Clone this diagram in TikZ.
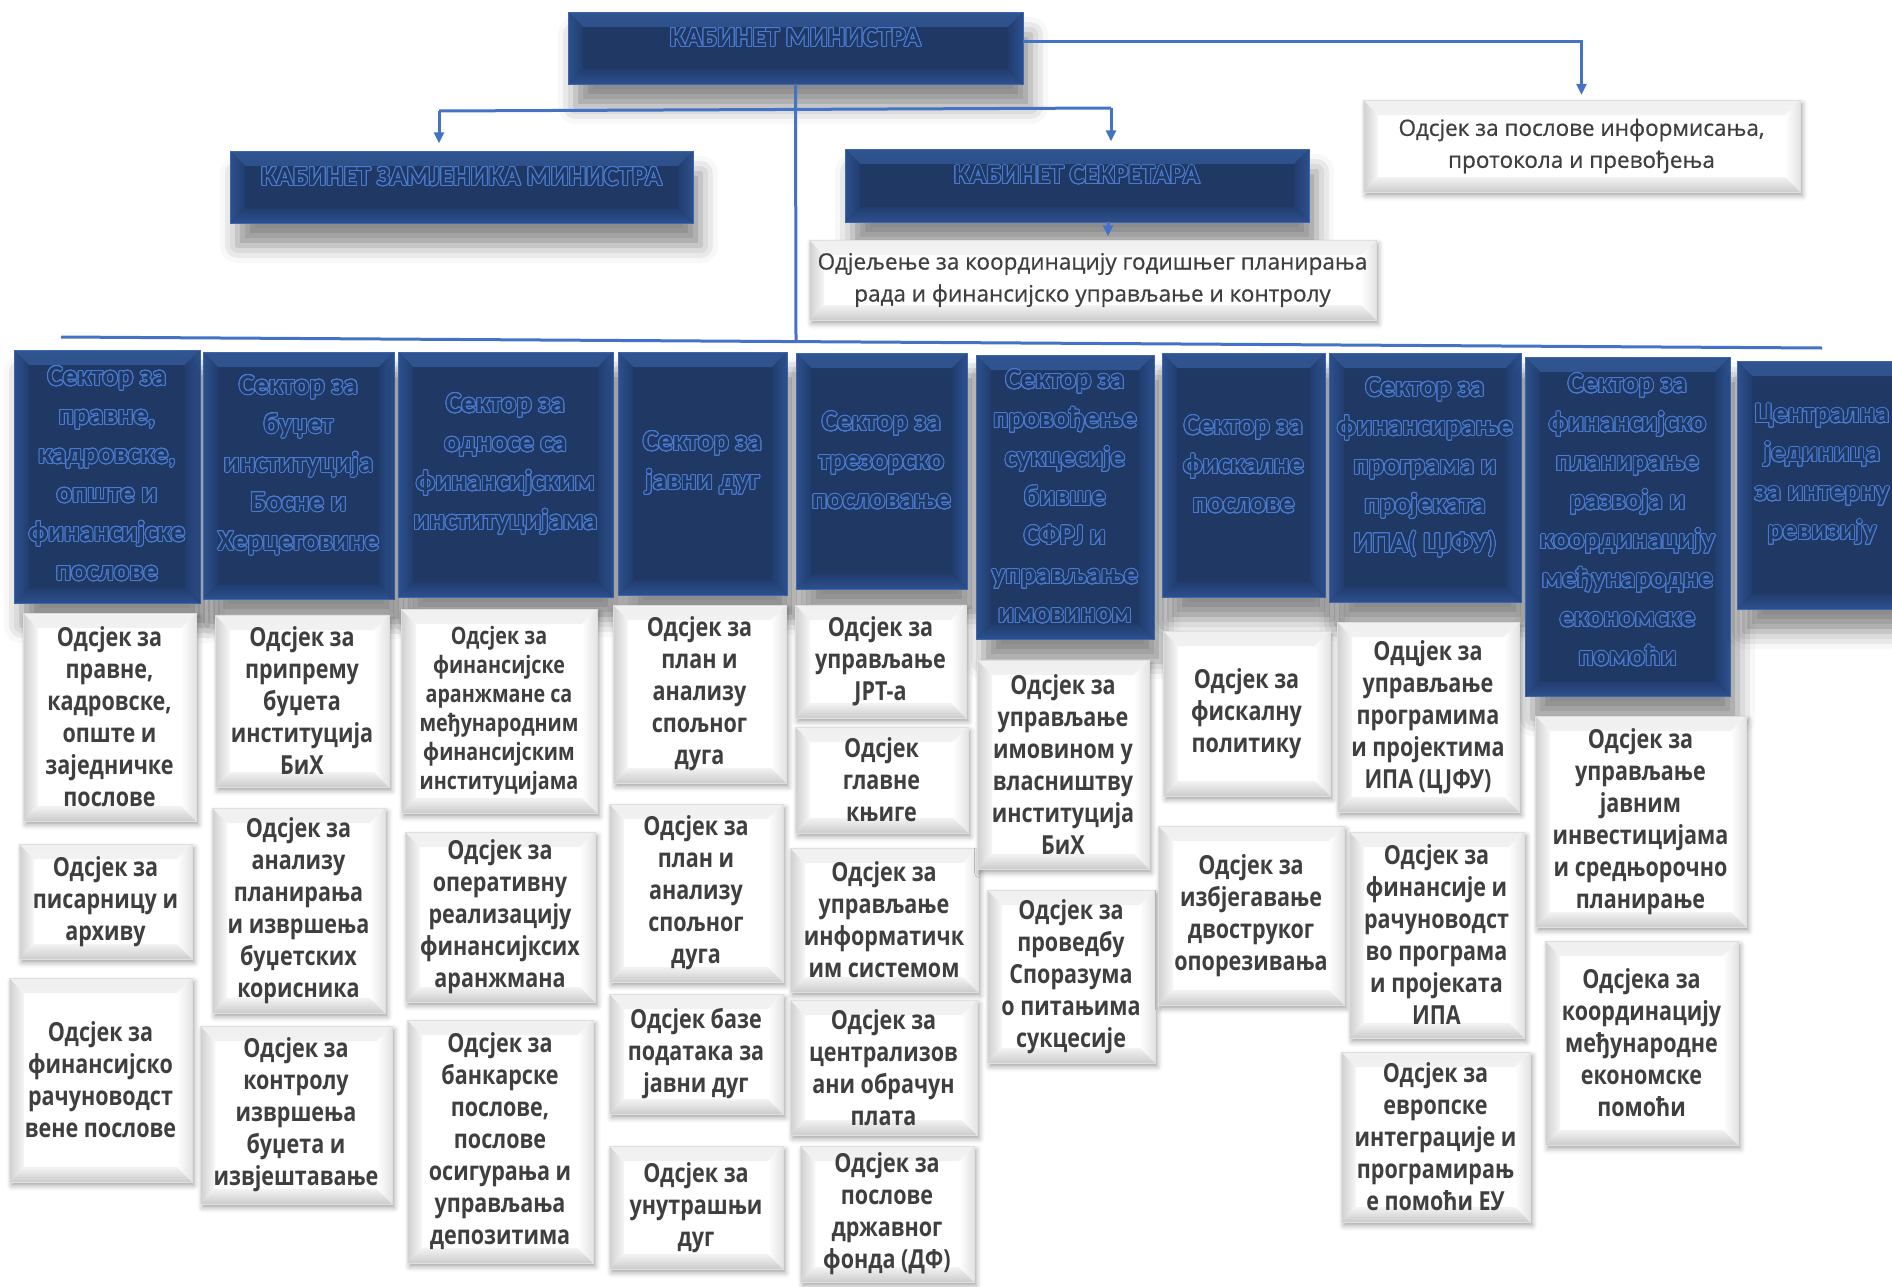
\documentclass[tikz,border=0pt]{standalone}
\usepackage{fontspec}
\usepackage[copies]{contour}
\usetikzlibrary{arrows.meta,shadows.blur}
\newfontfamily\osans{Open Sans}[FakeBold=0.6]
\newfontfamily\osansc{Open Sans}[FakeStretch=0.82]
\newfontfamily\carl{Carlito}
\contourlength{0.38pt}
\contournumber{24}
\definecolor{navy}{HTML}{1F3864}
\definecolor{lineblue}{HTML}{4472C4}
\definecolor{olblue}{HTML}{4A7BD0}
\definecolor{txtgray}{HTML}{3F3F3F}
\definecolor{dhi}{HTML}{30548F}
\definecolor{dmid}{HTML}{23427A}
\definecolor{dlo}{HTML}{213D6E}
\definecolor{dside}{HTML}{2D508E}
\definecolor{dedge}{HTML}{3B66B0}
\newcommand\ol[1]{\contour{olblue}{#1}}
\newcommand\bevelpaths[5]{%
 \path[#1] (path picture bounding box.north west) -- (path picture bounding box.north east) -- ([shift={(-#5,-#5)}]path picture bounding box.north east) -- ([shift={(#5,-#5)}]path picture bounding box.north west) -- cycle;
 \path[#2] (path picture bounding box.north east) -- (path picture bounding box.south east) -- ([shift={(-#5,#5)}]path picture bounding box.south east) -- ([shift={(-#5,-#5)}]path picture bounding box.north east) -- cycle;
 \path[#3] (path picture bounding box.south east) -- (path picture bounding box.south west) -- ([shift={(#5,#5)}]path picture bounding box.south west) -- ([shift={(-#5,#5)}]path picture bounding box.south east) -- cycle;
 \path[#4] (path picture bounding box.south west) -- (path picture bounding box.north west) -- ([shift={(#5,-#5)}]path picture bounding box.north west) -- ([shift={(#5,#5)}]path picture bounding box.south west) -- cycle;}
\newcommand\mkbox[7]{\node[#2, minimum width={(#5-#3)*0.4pt}, minimum height={(#6-#4)*0.4pt}] (#1) at ({(#3+#5)/2},{(#4+#6)/2}) {#7};}
\tikzset{
 every node/.style={inner sep=0pt, outer sep=0pt},
 dbox/.style={rectangle, fill=navy, draw=dedge, line width=0.4pt,
   blur shadow={shadow xshift=3pt, shadow yshift=-9pt, shadow blur radius=7pt, shadow opacity=45},
   path picture={\bevelpaths{top color=dhi,bottom color=dmid}{left color=dlo,right color=dside}{top color=dlo,bottom color=dside}{left color=dside,right color=dlo}{6pt}}},
 wbox/.style={rectangle, fill=white, draw=gray!25, line width=0.4pt,
   blur shadow={shadow xshift=1pt, shadow yshift=-1.5pt, shadow blur radius=2pt, shadow opacity=35},
   path picture={\bevelpaths{top color=gray!12,bottom color=white}{left color=white,right color=gray!22}{top color=gray!10,bottom color=gray!40}{left color=gray!38,right color=gray!6}{6pt}},
   align=center, text=txtgray, font=\osansc\bfseries\fontsize{10.5}{12.8}\selectfont},
 wsmall/.style={wbox, font=\osansc\bfseries\fontsize{9.6}{11.6}\selectfont},
 winfo/.style={wbox, font=\osans\fontsize{9}{12.8}\selectfont},
 htext/.style={align=center, text=navy, font=\carl\bfseries\fontsize{11}{13}\selectfont},
 stext/.style={align=center, text=navy, font=\carl\bfseries\fontsize{11.5}{15.6}\selectfont},
 conn/.style={draw=lineblue, line width=1.2pt, -{Triangle[length=4.5pt,width=4pt]}},
 bus/.style={draw=lineblue, line width=1.2pt},
}
\begin{document}
\begin{tikzpicture}[x=0.4pt,y=-0.4pt]
\useasboundingbox (0,0) rectangle (1892,1286);
% header boxes
\mkbox{km}{dbox}{568}{12}{1023}{84}{}
\mkbox{kzm}{dbox}{230}{151}{693}{223}{}
\mkbox{ks}{dbox}{845}{149}{1309}{222}{}
\mkbox{info}{winfo}{1363}{100}{1800}{192}{Одсјек за послове информисања,\\протокола и превођења}
\mkbox{odj}{winfo}{809}{240}{1376}{320}{Одјељење за координацију годишњег планирања\\рада и финансијско управљање и контролу}
\node[htext] (kmt) at ([yshift=4pt]km.center) {\ol{КАБИНЕТ МИНИСТРА}};
\node[htext] (kzmt) at ([yshift=4pt]kzm.center) {\ol{КАБИНЕТ ЗАМЈЕНИКА МИНИСТРА}};
\node[htext] (kst) at ([yshift=4pt]ks.center) {\ol{КАБИНЕТ СЕКРЕТАРА}};
% connectors
\coordinate (trunk) at (796,340);
\coordinate (busL) at (61,337);
\coordinate (busR) at (1822,348);
\coordinate (brL) at (439,111);
\coordinate (brR) at (1111,108);
\draw[bus] (km.south) -- (trunk);
\draw[bus] (busL) -- (busR);
\draw[bus] (brL) -- (brR);
\draw[conn, shorten >=3pt] (brL) -- (kzm.north -| brL);
\draw[conn, shorten >=3pt] (brR) -- (ks.north -| brR);
\draw[conn, shorten >=2pt] ([yshift=2.8pt]km.east) -| (info.north);
\draw[conn, shorten >=1pt] ([xshift=12.4pt]ks.south) -- ++(0,17);
% sector boxes
\mkbox{s1}{dbox}{14}{350}{200}{603}{}
\mkbox{s2}{dbox}{203}{352}{394}{599}{}
\mkbox{s3}{dbox}{398}{352}{613}{597}{}
\mkbox{s4}{dbox}{618}{352}{787}{595}{}
\mkbox{s5}{dbox}{796}{353}{967}{589}{}
\mkbox{s6}{dbox}{976}{355}{1154}{639}{}
\mkbox{s7}{dbox}{1162}{353}{1325}{597}{}
\mkbox{s8}{dbox}{1329}{353}{1521}{602}{}
\mkbox{s9}{dbox}{1525}{357}{1730}{696}{}
\mkbox{s10}{dbox}{1737}{361}{1907}{609}{}
\node[stext] (s1t) at ([yshift=1pt]s1.center) {\ol{Сектор за}\\\ol{правне,}\\\ol{кадровске,}\\\ol{опште и}\\\ol{финансијске}\\\ol{послове}};
\node[stext] (s2t) at ([yshift=4pt]s2.center) {\ol{Сектор за}\\\ol{буџет}\\\ol{институција}\\\ol{Босне и}\\\ol{Херцеговине}};
\node[stext] (s3t) at ([yshift=4pt]s3.center) {\ol{Сектор за}\\\ol{односе са}\\\ol{финансијским}\\\ol{институцијама}};
\node[stext] (s4t) at ([yshift=4pt]s4.center) {\ol{Сектор за}\\\ol{јавни дуг}};
\node[stext] (s5t) at ([yshift=4pt]s5.center) {\ol{Сектор за}\\\ol{трезорско}\\\ol{пословање}};
\node[stext] (s6t) at (s6.center) {\ol{Сектор за}\\\ol{провођење}\\\ol{сукцесије}\\\ol{бивше}\\\ol{СФРЈ и}\\\ol{управљање}\\\ol{имовином}};
\node[stext] (s7t) at ([yshift=4pt]s7.center) {\ol{Сектор за}\\\ol{фискалне}\\\ol{послове}};
\node[stext] (s8t) at ([yshift=4pt]s8.center) {\ol{Сектор за}\\\ol{финансирање}\\\ol{програма и}\\\ol{пројеката}\\\ol{ИПА( ЦЈФУ)}};
\node[stext] (s9t) at ([yshift=2.4pt]s9.center) {\ol{Сектор за}\\\ol{финансијско}\\\ol{планирање}\\\ol{развоја и}\\\ol{координацију}\\\ol{међународне}\\\ol{економске}\\\ol{помоћи}};
\node[stext] (s10t) at ([yshift=4pt]s10.center) {\ol{Централна}\\\ol{јединица}\\\ol{за интерну}\\\ol{ревизију}};
% column 1
\mkbox{a1}{wbox}{23}{613}{196}{821}{Одсјек за\\правне,\\кадровске,\\опште и\\заједничке\\послове}
\mkbox{a2}{wbox}{19}{844}{192}{959}{Одсјек за\\писарницу и\\архиву}
\mkbox{a3}{wbox}{9}{978}{192}{1182}{Одсјек за\\финансијско\\рачуноводст\\вене послове}
% column 2
\mkbox{b1}{wbox}{215}{615}{389}{787}{Одсјек за\\припрему\\буџета\\институција\\БиХ}
\mkbox{b2}{wbox}{212}{808}{385}{1013}{Одсјек за\\анализу\\планирања\\и извршења\\буџетских\\корисника}
\mkbox{b3}{wbox}{200}{1026}{392}{1204}{Одсјек за\\контролу\\извршења\\буџета и\\извјештавање}
% column 3
\mkbox{c1}{wsmall}{401}{609}{597}{813}{Одсјек за\\финансијске\\аранжмане са\\међународним\\финансијским\\институцијама}
\mkbox{c2}{wbox}{405}{832}{595}{1002}{Одсјек за\\оперативну\\реализацију\\финансијксих\\аранжмана}
\mkbox{c3}{wbox}{407}{1020}{593}{1263}{Одсјек за\\банкарске\\послове,\\послове\\осигурања и\\управљања\\депозитима}
% column 4
\mkbox{d1}{wbox}{613}{605}{786}{783}{Одсјек за\\план и\\анализу\\спољног\\дуга}
\mkbox{d2}{wbox}{609}{804}{783}{982}{Одсјек за\\план и\\анализу\\спољног\\дуга}
\mkbox{d3}{wbox}{609}{994}{783}{1114}{Одсјек базе\\података за\\јавни дуг}
\mkbox{d4}{wbox}{609}{1146}{783}{1269}{Одсјек за\\унутрашњи\\дуг}
% column 5
\mkbox{e1}{wbox}{795}{605}{966}{718}{Одсјек за\\управљање\\ЈРТ-а}
\mkbox{e2}{wbox}{795}{727}{968}{833}{Одсјек\\главне\\књиге}
\mkbox{e3}{wbox}{790}{848}{978}{992}{Одсјек за\\управљање\\информатичк\\им системом}
\mkbox{e4}{wbox}{790}{1000}{977}{1135}{Одсјек за\\централизов\\ани обрачун\\плата}
\mkbox{e5}{wbox}{800}{1146}{974}{1282}{Одсјек за\\послове\\државног\\фонда (ДФ)}
% column 6
\mkbox{f1}{wbox}{977}{660}{1149}{869}{Одсјек за\\управљање\\имовином у\\власништву\\институција\\БиХ}
\mkbox{f2}{wbox}{987}{890}{1155}{1063}{Одсјек за\\проведбу\\Споразума\\о питањима\\сукцесије}
% column 7
\mkbox{g1}{wbox}{1163}{631}{1330}{796}{Одсјек за\\фискалну\\политику}
\mkbox{g2}{wbox}{1158}{826}{1344}{1005}{Одсјек за\\избјегавање\\двоструког\\опорезивања}
% column 8
\mkbox{h1}{wbox}{1337}{622}{1519}{812}{Одцјек за\\управљање\\програмима\\и пројектима\\ИПА (ЦЈФУ)}
\mkbox{h2}{wbox}{1349}{832}{1524}{1038}{Одсјек за\\финансије и\\рачуноводст\\во програма\\и пројеката\\ИПА}
\mkbox{h3}{wbox}{1341}{1052}{1530}{1222}{Одсјек за\\европске\\интеграције и\\програмирањ\\е помоћи ЕУ}
% column 9
\mkbox{i1}{wbox}{1535}{716}{1746}{927}{Одсјек за\\управљање\\јавним\\инвестицијама\\и средњорочно\\планирање}
\mkbox{i2}{wbox}{1545}{941}{1738}{1145}{Одсјека за\\координацију\\међународне\\економске\\помоћи}
\end{tikzpicture}
\end{document}
